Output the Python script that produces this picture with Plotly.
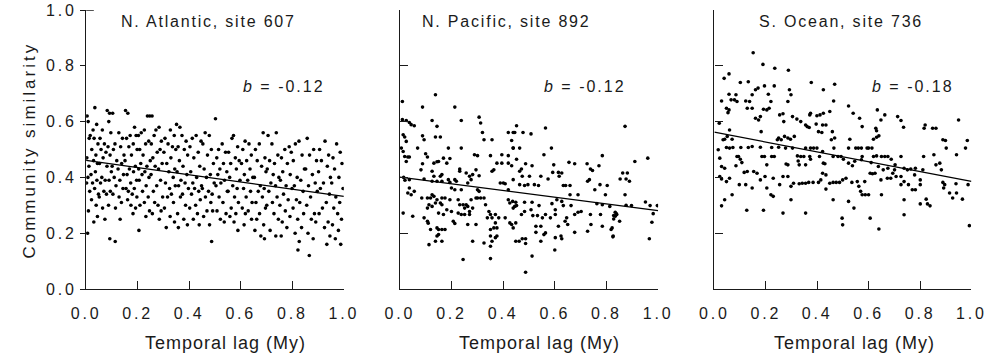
import plotly.graph_objects as go

# ---------------- data (temporal lag in My, community similarity) ----------------
atlantic_points = [
    (.004,.62),(.034,.65),(.008,.60),(.041,.59),(.027,.57),(.016,.55),(.031,.54),(.012,.54),(.046,.52),(.022,.50),
    (.038,.48),(.003,.47),(.029,.46),(.044,.45),(.011,.44),(.036,.42),(.019,.41),(.007,.40),(.042,.39),(.025,.38),
    (.002,.38),(.033,.36),(.014,.35),(.048,.34),(.021,.32),(.039,.30),(.009,.28),(.044,.26),(.030,.24),(.006,.20),
    (.082,.64),(.091,.63),(.088,.60),(.063,.57),(.096,.56),(.054,.54),(.071,.52),(.085,.51),(.058,.50),(.077,.49),
    (.093,.48),(.066,.47),(.052,.45),(.081,.44),(.098,.42),(.061,.40),(.074,.39),(.089,.39),(.056,.38),(.069,.35),
    (.094,.35),(.079,.34),(.051,.33),(.087,.30),(.064,.29),(.073,.25),(.092,.18),
    (.103,.63),(.127,.56),(.141,.54),(.112,.52),(.134,.51),(.106,.50),(.147,.48),(.119,.46),(.138,.45),(.101,.44),
    (.124,.43),(.145,.41),(.109,.40),(.131,.39),(.116,.37),(.143,.36),(.104,.34),(.128,.33),(.137,.31),(.114,.29),
    (.132,.25),(.113,.17),
    (.153,.64),(.162,.63),(.188,.58),(.171,.55),(.194,.55),(.157,.54),(.183,.52),(.166,.51),(.198,.50),(.176,.48),
    (.151,.46),(.191,.44),(.168,.43),(.184,.42),(.159,.41),(.196,.39),(.173,.38),(.155,.36),(.187,.36),(.164,.35),
    (.179,.34),(.197,.33),(.161,.32),(.174,.30),(.192,.29),(.182,.27),
    (.238,.62),(.247,.62),(.226,.57),(.214,.56),(.203,.55),(.243,.53),(.231,.52),(.208,.50),(.221,.48),(.249,.46),
    (.212,.45),(.236,.44),(.204,.43),(.228,.42),(.217,.41),(.244,.40),(.206,.39),(.233,.37),(.219,.35),(.241,.33),
    (.226,.31),(.209,.30),(.246,.28),(.232,.26),(.205,.21),
    (.256,.62),(.283,.58),(.271,.57),(.264,.55),(.292,.53),(.253,.52),(.287,.50),(.276,.49),(.259,.47),(.295,.45),
    (.268,.44),(.281,.43),(.252,.41),(.289,.39),(.274,.37),(.261,.35),(.297,.33),(.266,.31),(.279,.30),(.291,.28),
    (.257,.27),(.284,.25),
    (.327,.57),(.342,.55),(.306,.54),(.318,.52),(.335,.51),(.348,.50),(.302,.49),(.329,.47),(.313,.45),(.344,.43),
    (.321,.42),(.338,.40),(.308,.38),(.346,.37),(.324,.36),(.331,.34),(.316,.33),(.339,.31),(.304,.29),(.326,.26),
    (.343,.24),(.311,.22),
    (.351,.59),(.364,.58),(.372,.55),(.388,.53),(.357,.51),(.381,.50),(.394,.48),(.362,.46),(.376,.44),(.353,.42),
    (.391,.41),(.368,.39),(.384,.38),(.359,.37),(.397,.36),(.374,.34),(.366,.33),(.386,.30),(.355,.27),(.379,.25),
    (.393,.23),(.358,.22),
    (.427,.55),(.412,.54),(.446,.53),(.403,.51),(.435,.49),(.418,.47),(.441,.44),(.406,.42),(.429,.40),(.414,.38),
    (.448,.37),(.421,.36),(.437,.35),(.409,.34),(.443,.32),(.425,.30),(.402,.29),(.432,.27),(.416,.25),(.439,.23),
    (.462,.56),(.478,.55),(.453,.52),(.486,.50),(.471,.48),(.494,.45),(.458,.43),(.482,.41),(.467,.40),(.497,.38),
    (.451,.36),(.475,.35),(.489,.34),(.463,.33),(.484,.31),(.491,.28),(.469,.28),(.456,.26),(.479,.23),(.487,.17),
    (.502,.61),(.528,.52),(.514,.50),(.541,.49),(.507,.47),(.533,.45),(.519,.43),(.546,.42),(.511,.41),(.537,.39),
    (.523,.38),(.504,.37),(.548,.35),(.516,.33),(.531,.31),(.508,.28),(.543,.27),(.521,.25),(.536,.24),
    (.572,.55),(.566,.54),(.588,.51),(.553,.49),(.579,.47),(.594,.46),(.561,.45),(.583,.43),(.557,.40),(.597,.39),
    (.569,.37),(.586,.36),(.551,.35),(.576,.33),(.591,.31),(.563,.29),(.581,.27),(.558,.26),(.574,.24),(.589,.21),
    (.617,.53),(.632,.52),(.608,.50),(.641,.48),(.623,.46),(.603,.45),(.636,.43),(.614,.41),(.647,.40),(.627,.39),
    (.611,.36),(.638,.35),(.621,.33),(.644,.31),(.606,.29),(.629,.28),(.618,.27),(.642,.25),(.613,.23),
    (.687,.56),(.672,.52),(.657,.50),(.694,.47),(.664,.46),(.681,.44),(.698,.42),(.653,.40),(.676,.37),(.691,.36),
    (.668,.35),(.684,.33),(.659,.31),(.696,.29),(.673,.27),(.662,.25),(.689,.23),(.655,.21),(.678,.19),(.692,.18),
    (.738,.56),(.706,.55),(.721,.52),(.744,.48),(.712,.46),(.731,.45),(.703,.43),(.726,.41),(.748,.40),(.717,.38),
    (.735,.37),(.709,.35),(.741,.33),(.723,.31),(.701,.30),(.729,.27),(.746,.25),(.714,.21),(.736,.19),
    (.788,.51),(.771,.50),(.796,.49),(.758,.47),(.781,.45),(.763,.42),(.792,.41),(.754,.39),(.776,.37),(.799,.36),
    (.766,.34),(.784,.32),(.752,.30),(.773,.28),(.791,.26),(.761,.24),(.779,.22),(.757,.19),
    (.826,.53),(.812,.52),(.838,.48),(.804,.46),(.847,.43),(.819,.40),(.833,.39),(.808,.37),(.842,.35),(.816,.32),
    (.829,.31),(.803,.29),(.844,.27),(.821,.25),(.836,.22),(.811,.20),(.827,.17),(.822,.14),
    (.858,.54),(.883,.50),(.867,.48),(.894,.46),(.852,.43),(.878,.41),(.889,.38),(.863,.37),(.897,.35),(.871,.33),
    (.856,.30),(.886,.27),(.874,.25),(.891,.24),(.861,.20),(.881,.18),(.866,.12),
    (.927,.53),(.906,.50),(.941,.48),(.913,.46),(.936,.44),(.902,.42),(.948,.40),(.921,.38),(.909,.36),(.944,.34),
    (.932,.31),(.917,.29),(.904,.27),(.939,.24),(.925,.22),(.946,.19),(.934,.16),
    (.972,.52),(.986,.49),(.958,.47),(.993,.45),(.964,.43),(.981,.40),(.953,.38),(.997,.36),(.969,.33),(.984,.31),
    (.961,.29),(.976,.27),(.991,.25),(.956,.23),(.979,.21),(.967,.18),(.988,.16),
]

pacific_points = [
    (.010,.672),(.138,.696),(.088,.652),(.213,.652),(.125,.604),(.238,.604),(.307,.616),(.313,.595),(.144,.583),
    (.010,.607),(.025,.604),(.037,.597),(.044,.589),(.056,.585),(.320,.561),(.326,.535),(.357,.535),(.420,.561),
    (.439,.561),(.013,.553),(.019,.545),(.025,.529),(.088,.549),(.094,.535),(.138,.545),(.157,.545),(.069,.505),
    (.006,.505),(.013,.493),(.238,.505),(.188,.505),(.100,.485),(.107,.473),(.019,.475),(.031,.473),(.037,.473),
    (.289,.481),(.301,.478),(.351,.478),(.395,.481),(.420,.478),(.439,.505),(.025,.457),(.088,.449),(.132,.451),
    (.144,.456),(.150,.457),(.169,.469),(.194,.468),(.182,.451),(.125,.422),(.132,.404),(.157,.404),(.163,.410),
    (.232,.430),(.232,.422),(.257,.416),(.270,.404),(.282,.410),(.295,.427),(.307,.406),(.364,.427),(.357,.422),
    (.082,.427),(.376,.451),(.395,.451),(.420,.451),(.037,.392),(.094,.394),(.188,.392),(.194,.382),(.213,.392),
    (.219,.386),(.125,.386),(.144,.386),(.163,.386),(.263,.380),(.276,.392),(.301,.356),(.307,.350),(.389,.380),
    (.401,.380),(.408,.377),(.420,.356),(.037,.362),(.031,.344),(.044,.338),(.056,.350),(.200,.362),(.213,.356),
    (.238,.356),(.085,.326),(.107,.326),(.119,.326),(.125,.338),(.132,.332),(.144,.320),(.163,.326),(.175,.326),
    (.194,.320),(.113,.302),(.107,.290),(.125,.296),(.138,.308),(.157,.308),(.163,.302),(.226,.320),(.232,.302),
    (.245,.302),(.257,.302),(.276,.320),(.295,.326),(.301,.326),(.313,.326),(.326,.326),(.251,.290),(.263,.296),
    (.270,.278),(.282,.290),(.270,.267),(.251,.267),(.226,.272),(.238,.267),(.200,.278),(.182,.284),(.150,.272),
    (.169,.267),(.332,.302),(.345,.278),(.351,.267),(.357,.255),(.339,.255),(.370,.267),(.383,.255),(.370,.237),
    (.376,.219),(.364,.219),(.408,.255),(.420,.320),(.426,.308),(.445,.296),(.439,.290),(.050,.261),(.094,.255),
    (.107,.243),(.110,.236),(.207,.243),(.213,.235),(.263,.231),(.295,.231),(.119,.213),(.144,.219),(.150,.213),
    (.163,.213),(.175,.213),(.150,.195),(.144,.190),(.351,.213),(.351,.190),(.370,.184),(.376,.190),(.013,.272),
    (.433,.231),(.439,.219),(.113,.159),(.138,.171),(.163,.171),(.282,.171),(.326,.165),(.357,.171),(.351,.153),
    (.245,.106),(.351,.109),(.015,.400),(.020,.390),
    (.452,.585),(.445,.561),(.477,.561),(.508,.556),(.564,.577),(.433,.532),(.439,.505),(.464,.505),(.587,.505),
    (.558,.481),(.452,.465),(.487,.449),(.512,.442),(.471,.430),(.464,.422),(.474,.404),(.433,.442),(.596,.445),
    (.614,.418),(.627,.416),(.592,.418),(.655,.454),(.677,.449),(.725,.449),(.738,.430),(.746,.425),(.771,.442),
    (.784,.478),(.727,.386),(.734,.392),(.755,.356),(.775,.374),(.803,.371),(.796,.338),(.872,.583),(.863,.416),
    (.881,.416),(.853,.394),(.876,.394),(.910,.457),(.546,.404),(.574,.394),(.617,.404),(.633,.371),(.642,.371),
    (.659,.371),(.659,.338),(.521,.374),(.537,.371),(.483,.371),(.464,.374),(.439,.392),(.502,.404),(.496,.374),
    (.690,.338),(.763,.306),(.784,.302),(.813,.296),(.437,.314),(.449,.311),(.452,.299),(.483,.311),(.512,.311),
    (.539,.299),(.589,.306),(.608,.320),(.627,.314),(.663,.299),(.633,.299),(.471,.267),(.483,.278),(.508,.284),
    (.515,.263),(.533,.263),(.552,.255),(.564,.267),(.583,.255),(.602,.284),(.602,.267),(.614,.225),(.646,.255),
    (.640,.243),(.650,.231),(.677,.267),(.690,.275),(.702,.278),(.738,.267),(.740,.231),(.777,.267),(.784,.225),
    (.677,.203),(.834,.275),(.840,.267),(.828,.263),(.822,.219),(.818,.213),(.826,.190),(.426,.237),(.449,.237),
    (.527,.225),(.546,.225),(.564,.201),(.527,.203),(.558,.195),(.602,.184),(.624,.190),(.627,.180),(.449,.171),
    (.462,.171),(.474,.180),(.487,.180),(.487,.163),(.546,.171),(.600,.140),(.512,.118),(.487,.060),(.727,.207),
    (.960,.469),(.889,.386),(.872,.338),(.876,.300),(.897,.299),(.951,.312),(.969,.299),(.981,.270),(.997,.299),
    (.838,.270),(.834,.261),(.851,.243),(.828,.251),(.825,.187),(.976,.239),(.966,.180),
]

southern_points = [
    (.151,.847),(.189,.805),(.235,.791),(.288,.784),(.038,.755),(.057,.771),(.101,.740),(.132,.743),(.160,.714),
    (.170,.720),(.195,.728),(.233,.728),(.147,.696),(.137,.672),(.122,.674),(.128,.648),(.147,.648),(.084,.696),
    (.088,.672),(.057,.698),(.065,.678),(.078,.678),(.028,.674),(.047,.648),(.057,.642),(.053,.632),(.019,.594),
    (.059,.570),(.050,.547),(.040,.537),(.034,.535),(.069,.537),(.210,.698),(.220,.672),(.213,.648),(.204,.642),
    (.191,.644),(.179,.618),(.172,.606),(.160,.612),(.182,.564),(.292,.714),(.298,.696),(.286,.672),(.254,.624),
    (.267,.628),(.270,.600),(.245,.535),(.250,.541),(.260,.535),(.273,.547),(.286,.541),(.296,.537),(.311,.547),
    (.304,.618),(.321,.609),(.336,.600),(.355,.588),(.361,.582),(.369,.579),(.371,.624),(.374,.630),(.399,.621),
    (.411,.624),(.424,.630),(.377,.740),(.424,.714),(.468,.734),(.464,.674),(.449,.636),(.396,.591),(.421,.588),
    (.434,.588),(.405,.564),(.418,.561),(.459,.564),(.468,.541),(.455,.535),(.522,.656),(.540,.630),(.565,.612),
    (.575,.582),(.634,.642),(.648,.606),(.663,.624),(.628,.576),(.631,.567),(.527,.537),(.550,.505),(.560,.505),
    (.572,.505),(.600,.505),(.613,.505),(.619,.537),(.631,.544),(.640,.549),(.713,.618),(.726,.604),(.736,.580),
    (.820,.588),(.849,.576),(.862,.576),(.816,.576),(.889,.535),(.899,.532),(.902,.505),(.950,.606),(.984,.532),
    (.977,.505),(.942,.481),(.015,.499),(.021,.469),(.028,.439),(.047,.507),(.059,.505),(.072,.507),(.103,.507),
    (.132,.507),(.088,.475),(.094,.475),(.101,.465),(.107,.453),(.084,.442),(.116,.418),(.128,.421),(.147,.511),
    (.179,.508),(.185,.475),(.195,.475),(.204,.445),(.223,.507),(.223,.475),(.233,.475),(.250,.508),(.277,.505),
    (.279,.448),(.286,.445),(.267,.403),(.286,.403),(.304,.505),(.323,.477),(.336,.475),(.348,.475),(.355,.505),
    (.374,.505),(.386,.505),(.040,.433),(.059,.397),(.047,.385),(.021,.403),(.028,.394),(.153,.421),(.166,.415),
    (.179,.391),(.197,.403),(.229,.397),(.326,.459),(.330,.445),(.355,.445),(.371,.475),(.374,.465),(.399,.505),
    (.409,.475),(.421,.493),(.424,.451),(.430,.449),(.421,.415),(.434,.409),(.465,.505),(.462,.475),(.481,.475),
    (.493,.475),(.502,.465),(.522,.505),(.522,.451),(.537,.442),(.546,.458),(.575,.475),(.572,.463),(.594,.505),
    (.619,.475),(.631,.477),(.650,.475),(.663,.475),(.675,.475),(.688,.465),(.703,.445),(.726,.475),(.814,.475),
    (.854,.481),(.862,.445),(.877,.451),(.610,.453),(.638,.439),(.657,.427),(.675,.433),(.701,.427),(.738,.433),
    (.751,.427),(.764,.430),(.782,.433),(.648,.391),(.673,.397),(.686,.397),(.694,.415),(.707,.403),(.726,.403),
    (.779,.409),(.811,.427),(.801,.391),(.883,.427),(.896,.374),(.940,.377),(.254,.374),(.298,.368),(.308,.379),
    (.330,.377),(.342,.379),(.355,.379),(.367,.382),(.384,.382),(.405,.382),(.414,.391),(.434,.358),(.449,.379),
    (.462,.382),(.474,.382),(.487,.382),(.499,.391),(.512,.397),(.535,.382),(.556,.385),(.562,.368),(.569,.350),
    (.575,.338),(.587,.338),(.600,.338),(.585,.385),(.606,.415),(.615,.413),(.625,.415),(.726,.374),(.738,.385),
    (.755,.374),(.770,.356),(.782,.356),(.801,.374),(.889,.382),(.892,.362),(.915,.344),(.927,.326),(.942,.344),
    (.965,.322),(.987,.374),(.097,.374),(.122,.374),(.147,.362),(.204,.362),(.220,.338),(.229,.332),(.069,.338),
    (.040,.320),(.028,.298),(.298,.320),(.355,.272),(.267,.272),(.191,.282),(.126,.282),(.462,.320),(.522,.314),
    (.543,.290),(.650,.338),(.738,.320),(.738,.266),(.801,.305),(.824,.322),(.829,.305),(.839,.298),(.497,.254),
    (.499,.230),(.606,.254),(.640,.215),(.992,.227),
]

panel_titles = ["N. Atlantic, site 607", "N. Pacific, site 892", "S. Ocean, site 736"]
slope_labels = ["-0.12", "-0.12", "-0.18"]
# fitted regression line end points (similarity at lag 0 and lag 1)
fit_start = [0.461, 0.401, 0.562]
fit_end = [0.332, 0.281, 0.386]
tick_values = [0.0, 0.2, 0.4, 0.6, 0.8, 1.0]
tick_labels = ["0.0", "0.2", "0.4", "0.6", "0.8", "1.0"]

# ---------------- layout helpers ----------------
W, H = 1000, 354
M_T, M_B = 10, 65
PLOT_H = H - M_T - M_B
FONT = "Liberation Sans, Arial, Helvetica, sans-serif"
INK = "#1a1a1a"
x_domains = [[0.0733, 0.339], [0.3967, 0.663], [0.721, 0.986]]

def spaced(t, sp):
    return f'<span style="letter-spacing:{sp}px">{t}</span>'

def py(pix):
    """pixel row -> paper y (paper coords span the plot area)"""
    return (H - M_B - pix) / PLOT_H

fig = go.Figure()
all_points = [atlantic_points, pacific_points, southern_points]
for i, pts in enumerate(all_points):
    ax = "" if i == 0 else str(i + 1)
    xs = [p[0] for p in pts]
    ys = [p[1] for p in pts]
    fig.add_trace(go.Scatter(x=xs, y=ys, mode="markers", xaxis="x" + ax, yaxis="y" + ax,
                             marker=dict(size=3.6, color="black", line=dict(width=0)),
                             showlegend=False, hoverinfo="skip"))
    fig.add_trace(go.Scatter(x=[0, 1], y=[fit_start[i], fit_end[i]], mode="lines",
                             xaxis="x" + ax, yaxis="y" + ax,
                             line=dict(color="black", width=1.3),
                             showlegend=False, hoverinfo="skip"))

tick_text = [spaced(t, 2.8) for t in tick_labels]
layout = dict(width=W, height=H, margin=dict(l=0, r=0, t=M_T, b=M_B),
              paper_bgcolor="white", plot_bgcolor="white",
              font=dict(family=FONT, size=16, color=INK), showlegend=False)
for i in range(3):
    ax = "" if i == 0 else str(i + 1)
    layout["xaxis" + ax] = dict(domain=x_domains[i], range=[0, 1], anchor="y" + ax,
                                showline=True, linecolor=INK, linewidth=1.4,
                                ticks="inside", ticklen=8, tickwidth=1.4, tickcolor=INK,
                                tickvals=tick_values, ticktext=tick_text,
                                ticklabelstandoff=10,
                                showgrid=False, zeroline=False, fixedrange=True)
    ydict = dict(domain=[0, 1], range=[0, 1], anchor="x" + ax,
                 showline=True, linecolor=INK, linewidth=1.4,
                 tickvals=tick_values, tickwidth=1.4, tickcolor=INK,
                 showgrid=False, zeroline=False, fixedrange=True)
    if i == 0:
        ydict.update(ticks="outside", ticklen=5, ticktext=tick_text, showticklabels=True)
    else:
        ydict.update(ticks="inside", ticklen=8, showticklabels=False)
    layout["yaxis" + ax] = ydict
fig.update_layout(**layout)

# small stub at the top of the first y axis
fig.add_shape(type="line", xref="x", yref="y", x0=0, x1=0.03, y0=1, y1=1,
              line=dict(color=INK, width=1.4))

title_x = [199.5, 507, 852]
slope_x = [277.5, 587.5, 926]
xtitle_x = [217, 541, 865]
for i in range(3):
    fig.add_annotation(x=title_x[i] / W, y=py(21), xref="paper", yref="paper",
                       yanchor="middle", xanchor="center", showarrow=False,
                       text=spaced(panel_titles[i], 1.8), font=dict(size=16, family=FONT, color=INK))
    fig.add_annotation(x=slope_x[i] / W, y=py(86), xref="paper", yref="paper",
                       yanchor="middle", xanchor="center", showarrow=False,
                       text=spaced("<i>b</i> = " + slope_labels[i], 2.0),
                       font=dict(size=16, family=FONT, color=INK))
    fig.add_annotation(x=xtitle_x[i] / W, y=py(343), xref="paper", yref="paper",
                       yanchor="middle", xanchor="center", showarrow=False,
                       text=spaced("Temporal lag (My)", 1.0), font=dict(size=18, family=FONT, color=INK))

fig.add_annotation(x=14 / W, y=py(150), xref="paper", yref="paper",
                   yanchor="middle", xanchor="center", showarrow=False, textangle=-90,
                   text=spaced("Community similarity", 3.0), font=dict(size=17, family=FONT, color=INK))

fig.write_html("out.html")
